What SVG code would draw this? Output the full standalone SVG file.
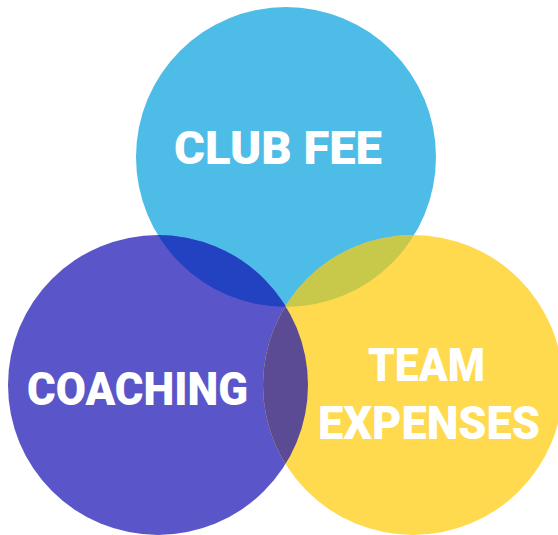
<svg xmlns="http://www.w3.org/2000/svg" width="558" height="535" viewBox="0 0 558 535">
<style>
.lbl{font-family:Roboto,"Liberation Sans",sans-serif;font-weight:900;fill:#ffffff;font-size:46px;}
</style>
<defs>
<clipPath id="cTop"><circle cx="286" cy="157" r="150"/></clipPath>
<clipPath id="cLeft"><circle cx="158" cy="385" r="150"/></clipPath>
<clipPath id="cRight"><circle cx="413" cy="385" r="150"/></clipPath>
</defs>
<rect width="558" height="535" fill="#ffffff"/>
<g id="club-fee">
<circle cx="286" cy="157" r="150" fill="#4DBDE8"/>
</g>
<g id="coaching">
<circle cx="158" cy="385" r="150" fill="#5A56C9"/>
</g>
<g id="team-expenses">
<circle cx="413" cy="385" r="150" fill="#FFD94E"/>
</g>
<g id="overlaps">
<circle cx="158" cy="385" r="150" fill="#2342C2" clip-path="url(#cTop)"/>
<circle cx="413" cy="385" r="150" fill="#C8C84A" clip-path="url(#cTop)"/>
<circle cx="413" cy="385" r="150" fill="#5B4B94" clip-path="url(#cLeft)"/>
</g>
<g id="labels">
<text class="lbl" x="174" y="164" textLength="208" lengthAdjust="spacingAndGlyphs">CLUB FEE</text>
<text class="lbl" x="27" y="405" textLength="221" lengthAdjust="spacingAndGlyphs">COACHING</text>
<text class="lbl" x="368" y="381" textLength="117" lengthAdjust="spacingAndGlyphs">TEAM</text>
<text class="lbl" x="318" y="439" textLength="222" lengthAdjust="spacingAndGlyphs">EXPENSES</text>
</g>
</svg>
